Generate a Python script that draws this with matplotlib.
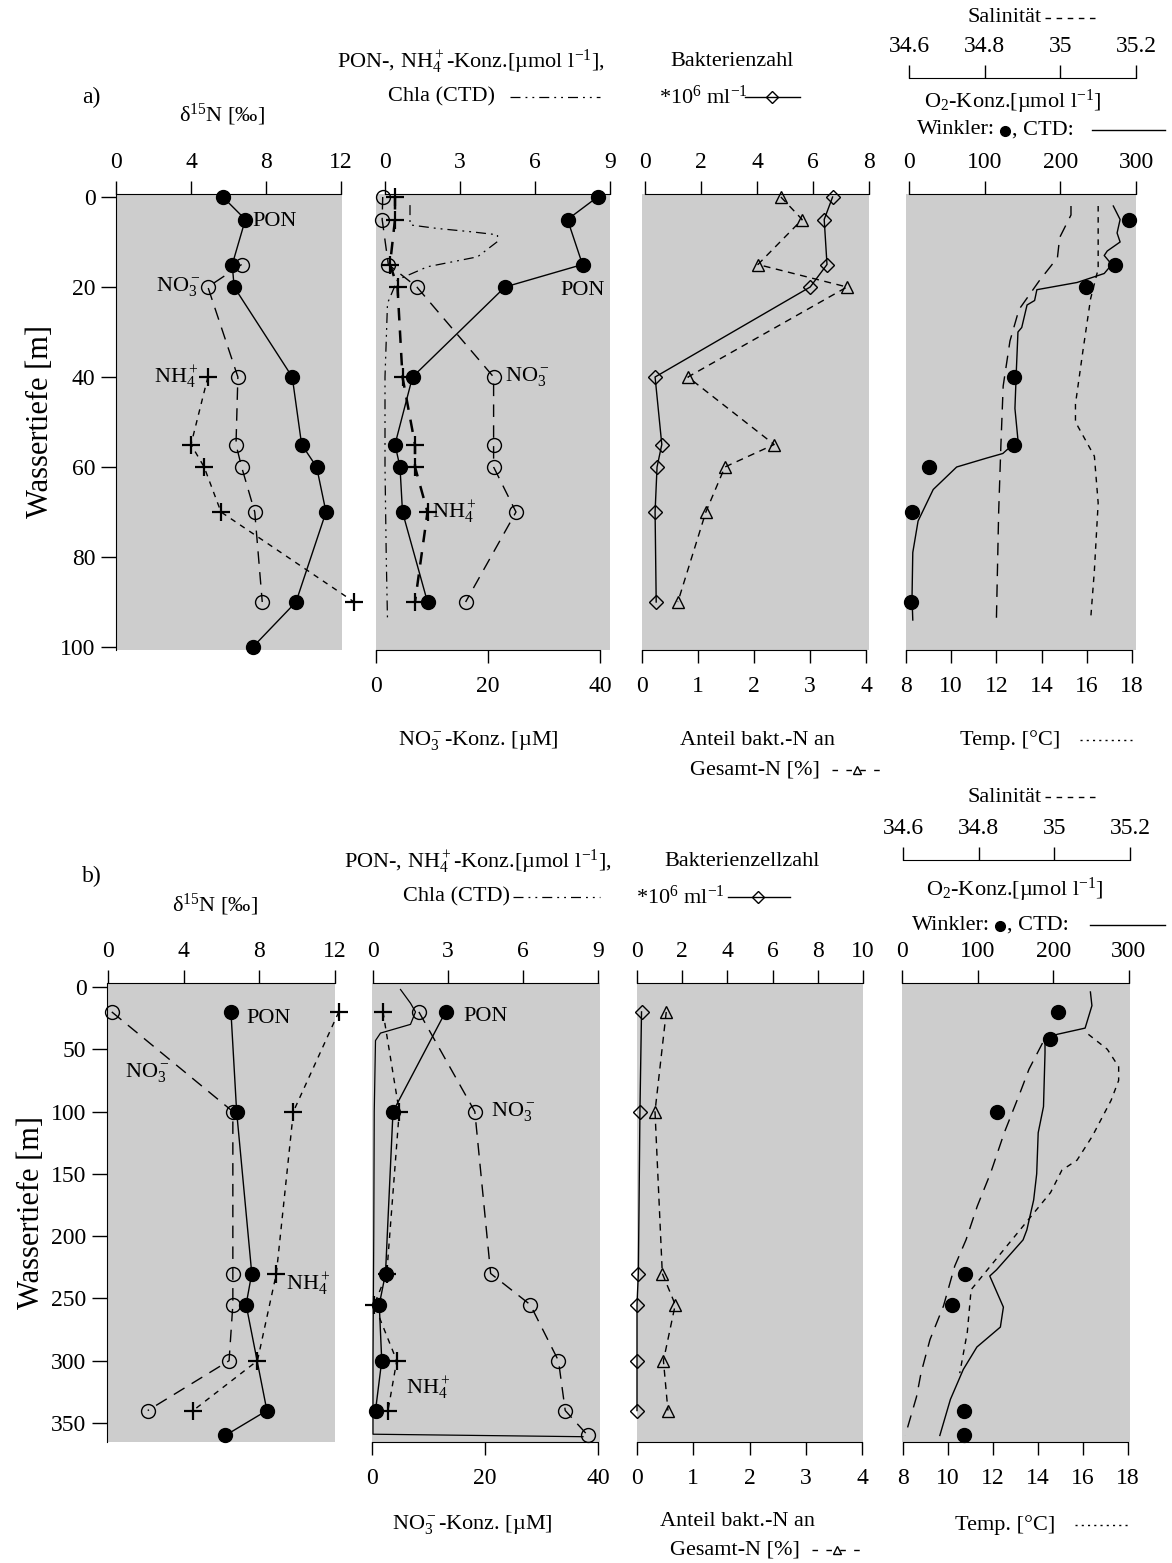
import numpy as np
import matplotlib
matplotlib.use('Agg')
import matplotlib.pyplot as plt
from matplotlib.lines import Line2D

plt.rcParams['font.family'] = ['Liberation Serif', 'DejaVu Serif']
plt.rcParams['mathtext.fontset'] = 'custom'
plt.rcParams['mathtext.rm'] = 'Liberation Serif'
plt.rcParams['mathtext.it'] = 'Liberation Serif:italic'
plt.rcParams['font.size'] = 16

# ---------------- data, station a) ----------------
# sampling depths [m]
depth_a = [0, 5, 15, 20, 40, 55, 60, 70, 90]
# delta15N [permil]
d15n_pon_depth_a = [0, 5, 15, 20, 40, 55, 60, 70, 90, 100]
d15n_pon_a = [5.7, 6.9, 6.2, 6.3, 9.4, 9.9, 10.7, 11.2, 9.6, 7.3]
d15n_no3_depth_a = [15, 20, 40, 55, 60, 70, 90]
d15n_no3_a = [6.7, 4.9, 6.5, 6.4, 6.7, 7.4, 7.8]
d15n_nh4_depth_a = [40, 55, 60, 70, 90]
d15n_nh4_a = [4.9, 4.0, 4.7, 5.6, 12.7]
# concentrations
pon_a = [8.5, 7.3, 7.9, 4.8, 1.1, 0.4, 0.6, 0.7, 1.7]
nh4_a = [0.4, 0.4, 0.2, 0.5, 0.7, 1.2, 1.2, 1.7, 1.2]
no3_a = [1.2, 1.1, 2.2, 7.3, 21, 21, 21, 25, 16]
chla_depth_a = [1.8, 6.2, 7, 7.7, 8.4, 9.9, 13.3, 15.5, 18.4, 23.6, 40, 60, 80, 94]
chla_a = [1.0, 1.0, 2.1, 3.4, 4.5, 4.5, 3.7, 1.7, 0.5, 0.1, 0.0, 0.0, 0.05, 0.1]
# bacteria
bact_a = [6.7, 6.4, 6.5, 5.9, 0.36, 0.6, 0.43, 0.36, 0.4]
bactn_a = [2.48, 2.86, 2.07, 3.66, 0.82, 2.36, 1.48, 1.14, 0.64]
# oxygen, temperature, salinity
winkler_depth_a = [5, 15, 20, 40, 55, 60, 70, 90]
winkler_a = [291, 272, 234, 139, 139, 26, 4, 3]
ctd_depth_a = [2, 5, 8, 10, 12, 13, 15, 17, 19, 20.6, 23, 24, 29, 30, 38, 47, 54, 57, 58, 60, 65, 72, 79, 89, 94]
ctd_o2_a = [270, 279, 275, 279, 262, 258, 268, 258, 222, 169, 166, 156, 149, 144, 142, 140, 144, 124, 103, 63, 32, 12, 5, 4, 5]
temp_depth_a = [2, 4, 9, 13.5, 18.6, 25, 32, 42, 55, 70, 94]
temp_a = [15.3, 15.3, 14.8, 14.7, 13.9, 13.0, 12.6, 12.3, 12.2, 12.1, 12.0]
sal_depth_a = [2, 16, 22.6, 34, 46, 50, 57.6, 68, 83, 94]
sal_a = [35.10, 35.10, 35.08, 35.06, 35.04, 35.04, 35.09, 35.10, 35.09, 35.08]

# ---------------- data, station b) ----------------
d15n_pon_depth_b = [20, 100, 230, 255, 340, 360]
d15n_pon_b = [6.5, 6.8, 7.6, 7.3, 8.4, 6.2]
d15n_no3_depth_b = [20, 100, 230, 255, 300, 340]
d15n_no3_b = [0.2, 6.6, 6.6, 6.6, 6.4, 2.1]
d15n_nh4_depth_b = [20, 100, 230, 300, 340]
d15n_nh4_b = [12.2, 9.8, 8.9, 7.9, 4.5]
pon_depth_b = [20, 100, 230, 255, 300, 340]
pon_b = [2.9, 0.8, 0.5, 0.25, 0.35, 0.1]
nh4_depth_b = [20, 100, 230, 255, 300, 340]
nh4_b = [0.4, 1.05, 0.55, 0.05, 0.95, 0.6]
no3_depth_b = [20, 100, 230, 255, 300, 340, 360]
no3_b = [8.3, 18.2, 21, 28, 33, 34.2, 38.2]
chla_depth_b = [2, 13, 20, 30, 37, 43, 100, 200, 300, 359, 361]
chla_b = [1.1, 1.5, 1.7, 1.5, 0.3, 0.1, 0.05, 0.03, 0.0, 0.0, 8.4]
bact_depth_b = [20, 100, 230, 255, 300, 340]
bact_b = [0.2, 0.13, 0.06, 0.0, 0.0, 0.0]
bactn_b = [0.52, 0.32, 0.45, 0.68, 0.47, 0.55]
winkler_depth_b = [20, 42, 100, 230, 255, 340, 360]
winkler_b = [206, 196, 126, 83, 66, 82, 82]
ctd_depth_b = [4, 15, 33, 38, 42, 53, 96, 117, 150, 171, 195, 203, 227, 232, 257, 273, 289, 307, 331, 360]
ctd_o2_b = [249, 251, 242, 205, 189, 189, 187, 180, 178, 174, 165, 160, 125, 116, 134, 130, 99, 81, 64, 50]
temp_depth_b = [45, 66, 85, 117, 149, 176, 203, 224, 256, 283, 310, 329, 360]
temp_b = [14.2, 13.6, 13.2, 12.5, 11.9, 11.3, 10.8, 10.3, 9.8, 9.2, 8.8, 8.6, 8.1]
sal_depth_b = [38, 50, 64, 75, 91, 120, 139, 147, 165, 243, 277, 310]
sal_b = [35.09, 35.14, 35.17, 35.17, 35.15, 35.10, 35.06, 35.02, 34.99, 34.78, 34.77, 34.75]

# ---------------- layout helpers ----------------
W, H = 1172, 1563
fig = plt.figure(figsize=(W / 100, H / 100), dpi=100)
SHADE = '#cdcdcd'
PT = 0.72  # points per pixel at 100 dpi


def rect(x0, x1, y0, y1):
    return [x0 / W, 1 - y1 / H, (x1 - x0) / W, (y1 - y0) / H]


def lim(b0, b1, p0, p1, v0, v1):
    # limits so that value v0 lands on pixel p0 and v1 on p1, box from b0 to b1
    s = (v1 - v0) / (p1 - p0)
    return v0 + (b0 - p0) * s, v0 + (b1 - p0) * s


def ftext(x, y, s, **kw):
    kw.setdefault('ha', 'center')
    kw.setdefault('va', 'center')
    fig.text(x / W, 1 - y / H, s, **kw)


def fline(xs, ys, **kw):
    fig.add_artist(Line2D([x / W for x in xs], [1 - y / H for y in ys],
                          transform=fig.transFigure, color='k', **kw))


def style_x(a, where, ticks, bounds, labels=None):
    if where == 'top':
        a.xaxis.tick_top()
    else:
        a.xaxis.tick_bottom()
    a.set_xticks(ticks)
    if labels is not None:
        a.set_xticklabels(labels)
    a.spines[where].set_visible(True)
    a.spines[where].set_bounds(*bounds)
    a.tick_params(axis='x', direction='out', length=13 * PT, width=1,
                  labelsize=17, pad=6 if where == 'top' else 9)


def panel(bx, by, ylim, top, bottom=None, sal=None, yticks=None):
    ax = fig.add_axes(rect(bx[0], bx[1], by[0], by[1]))
    ax.set_facecolor(SHADE)
    out = [ax]
    axb = axs = None
    if bottom is not None:
        axb = ax.twiny()
        out.append(axb)
    if sal is not None:
        axs = ax.twiny()
        out.append(axs)
    for a in out:
        for s in a.spines.values():
            s.set_visible(False)
    ax.set_ylim(ylim)
    ax.set_xlim(lim(bx[0], bx[1], *top[0]))
    style_x(ax, 'top', top[1], top[0][2:])
    if yticks is None:
        ax.set_yticks([])
    else:
        ax.set_yticks(yticks)
        ax.spines['left'].set_visible(True)
        ax.tick_params(axis='y', direction='out', length=15 * PT, width=1,
                       labelsize=17, pad=4)
    if axb is not None:
        axb.set_xlim(lim(bx[0], bx[1], *bottom[0]))
        style_x(axb, 'bottom', bottom[1], bottom[0][2:])
    if axs is not None:
        axs.set_xlim(lim(bx[0], bx[1], *sal[0]))
        style_x(axs, 'top', sal[1], sal[0][2:], sal[2])
        axs.spines['top'].set_position(('outward', sal[3] * PT))
    return out


filled = dict(color='k', lw=1, marker='o', ms=10, mfc='k', mec='k', clip_on=False)
opencirc = dict(color='k', lw=1, marker='o', ms=10, mfc='none', mec='k', mew=1, clip_on=False)
plus = dict(color='k', lw=1, marker='+', ms=13, mew=1.6, clip_on=False)
diam = dict(color='k', lw=1, marker='D', ms=7.5, mfc='none', mec='k', mew=1, clip_on=False)
tri = dict(color='k', lw=1, marker='^', ms=9, mfc='none', mec='k', mew=1, clip_on=False)
LDASH = (0, (9, 6))
SDASH = (0, (4, 4))
CHLA = (0, (8, 4, 1.5, 4, 1.5, 4))

sal_ticks = [34.6, 34.8, 35.0, 35.2]
sal_labels = ['34.6', '34.8', '35', '35.2']

# ================= row a =================
YA = (194, 650)
ylim_a = lim(YA[1], YA[0], 647, 197, 100, 0)

ax1, = panel((116, 342), YA, ylim_a, ((116, 341, 0, 12), [0, 4, 8, 12]),
             yticks=[0, 20, 40, 60, 80, 100])
ax1.set_ylabel('Wassertiefe [m]', fontsize=22, labelpad=4)
ax1.plot(d15n_no3_a, d15n_no3_depth_a, ls=LDASH, **opencirc)
ax1.plot(d15n_nh4_a, d15n_nh4_depth_a, ls=SDASH, **plus)
ax1.plot(d15n_pon_a, d15n_pon_depth_a, ls='-', **filled)
ax1.text(7.3, 5.5, 'PON', ha='left', va='center')
ax1.text(4.5, 20, 'NO$_3^-$', ha='right', va='center')
ax1.text(4.4, 40, 'NH$_4^+$', ha='right', va='center')

ax2, ax2b = panel((376, 610), YA, ylim_a, ((385, 610, 0, 9), [0, 3, 6, 9]),
                  bottom=((376, 600, 0, 40), [0, 20, 40]))
ax2.plot(chla_a, chla_depth_a, color='k', lw=0.9, ls=CHLA)
ax2.plot(nh4_a, depth_a, ls=(0, (5, 4)), **dict(plus, lw=1.8))
ax2b.plot(no3_a, depth_a, ls=LDASH, **opencirc)
ax2.plot(pon_a, depth_a, ls='-', **filled)
ax2.text(7.0, 20.7, 'PON', ha='left', va='center')
ax2b.text(23, 40, 'NO$_3^-$', ha='left', va='center')
ax2.text(1.9, 70, 'NH$_4^+$', ha='left', va='center')

ax3, ax3b = panel((642, 869), YA, ylim_a, ((645, 869, 0, 8), [0, 2, 4, 6, 8]),
                  bottom=((642, 866, 0, 4), [0, 1, 2, 3, 4]))
ax3b.plot(bactn_a, depth_a, ls=(0, (5, 4)), **tri)
ax3.plot(bact_a, depth_a, ls='-', **diam)

ax4, ax4b, ax4s = panel((906, 1136), YA, ylim_a, ((909, 1136, 0, 300), [0, 100, 200, 300]),
                        bottom=((906, 1132, 8, 18), [8, 10, 12, 14, 16, 18]),
                        sal=((909, 1136, 34.6, 35.2), sal_ticks, sal_labels, 116))
ax4b.plot(temp_a, temp_depth_a, color='k', lw=1, ls=LDASH)
ax4s.plot(sal_a, sal_depth_a, color='k', lw=1, ls=SDASH)
ax4.plot(ctd_o2_a, ctd_depth_a, color='k', lw=1)
ax4.plot(winkler_a, winkler_depth_a, ls='none', **filled)

# header / footer texts row a
ftext(82, 97, 'a)', ha='left', fontsize=17)
ftext(222, 115, 'δ$^{15}$N [‰]')
ftext(471, 62, 'PON-, NH$_4^+$-Konz.[µmol l$^{-1}$],')
ftext(442, 97, 'Chla (CTD)')
fline([510, 600], [97, 97], lw=0.9, ls=CHLA)
ftext(732, 62, 'Bakterienzahl')
ftext(703, 97, '*10$^6$ ml$^{-1}$')
fline([745, 772, 800], [97, 97, 97], lw=1, marker='D', ms=6, mfc='none', markevery=[1])
ftext(1005, 18, 'Salinität')
fline([1045, 1100], [18, 18], lw=1, ls=SDASH)
ftext(1013, 102, 'O$_2$-Konz.[µmol l$^{-1}$]')
ftext(995, 130, 'Winkler:', ha='right')
fline([1005], [131], marker='o', ms=7, ls='none')
ftext(1012, 130, ', CTD:', ha='left')
fline([1092, 1165], [130, 130], lw=1)
ftext(478, 740, 'NO$_3^-$-Konz. [µM]')
ftext(758, 740, 'Anteil bakt.-N an')
ftext(755, 770, 'Gesamt-N [%]')
fline([832, 857, 882], [770, 770, 770], lw=1, ls=(0, (4, 6)), marker='^', ms=6,
      mfc='none', markevery=[1])
ftext(1010, 740, 'Temp. [°C]')
fline([1080, 1132], [740, 740], lw=1, ls=(0, (1.5, 3)))

# ================= row b =================
YB = (983, 1442)
ylim_b = lim(YB[1], YB[0], 1423, 987, 350, 0)

bx1, = panel((107, 335), YB, ylim_b, ((108, 335, 0, 12), [0, 4, 8, 12]),
             yticks=[0, 50, 100, 150, 200, 250, 300, 350])
bx1.set_ylabel('Wassertiefe [m]', fontsize=22, labelpad=4)
bx1.plot(d15n_no3_b, d15n_no3_depth_b, ls=LDASH, **opencirc)
bx1.plot(d15n_nh4_b, d15n_nh4_depth_b, ls=SDASH, **plus)
bx1.plot(d15n_pon_b, d15n_pon_depth_b, ls='-', **filled)
bx1.text(7.3, 25, 'PON', ha='left', va='center')
bx1.text(0.9, 69, 'NO$_3^-$', ha='left', va='center')
bx1.text(9.4, 238, 'NH$_4^+$', ha='left', va='center')

bx2, bx2b = panel((372, 600), YB, ylim_b, ((373, 598, 0, 9), [0, 3, 6, 9]),
                  bottom=((372, 598, 0, 40), [0, 20, 40]))
bx2.plot(chla_b, chla_depth_b, color='k', lw=0.9)
bx2.plot(nh4_b, nh4_depth_b, ls=SDASH, **plus)
bx2b.plot(no3_b, no3_depth_b, ls=LDASH, **opencirc)
bx2.plot(pon_b, pon_depth_b, ls='-', **filled)
bx2.text(3.6, 24, 'PON', ha='left', va='center')
bx2.text(4.7, 100, 'NO$_3^-$', ha='left', va='center')
bx2.text(1.3, 322, 'NH$_4^+$', ha='left', va='center')

bx3, bx3b = panel((637, 863), YB, ylim_b, ((637, 863, 0, 10), [0, 2, 4, 6, 8, 10]),
                  bottom=((637, 862, 0, 4), [0, 1, 2, 3, 4]))
bx3b.plot(bactn_b, bact_depth_b, ls=(0, (5, 4)), **tri)
bx3.plot(bact_b, bact_depth_b, ls='-', **diam)

bx4, bx4b, bx4s = panel((902, 1130), YB, ylim_b, ((902, 1129, 0, 300), [0, 100, 200, 300]),
                        bottom=((903, 1128, 8, 18), [8, 10, 12, 14, 16, 18]),
                        sal=((903, 1130, 34.6, 35.2), sal_ticks, sal_labels, 123))
bx4b.plot(temp_b, temp_depth_b, color='k', lw=1, ls=LDASH)
bx4s.plot(sal_b, sal_depth_b, color='k', lw=1, ls=SDASH)
bx4.plot(ctd_o2_b, ctd_depth_b, color='k', lw=1)
bx4.plot(winkler_b, winkler_depth_b, ls='none', **filled)

ftext(82, 876, 'b)', ha='left', fontsize=17)
ftext(215, 905, 'δ$^{15}$N [‰]')
ftext(478, 862, 'PON-, NH$_4^+$-Konz.[µmol l$^{-1}$],')
ftext(457, 897, 'Chla (CTD)')
fline([513, 600], [897, 897], lw=0.9, ls=CHLA)
ftext(742, 862, 'Bakterienzellzahl')
ftext(680, 897, '*10$^6$ ml$^{-1}$')
fline([728, 758, 790], [897, 897, 897], lw=1, marker='D', ms=6, mfc='none', markevery=[1])
ftext(1005, 797, 'Salinität')
fline([1045, 1100], [797, 797], lw=1, ls=SDASH)
ftext(1015, 890, 'O$_2$-Konz.[µmol l$^{-1}$]')
ftext(990, 925, 'Winkler:', ha='right')
fline([1000], [926], marker='o', ms=7, ls='none')
ftext(1007, 925, ', CTD:', ha='left')
fline([1090, 1165], [925, 925], lw=1)
ftext(472, 1524, 'NO$_3^-$-Konz. [µM]')
ftext(737, 1522, 'Anteil bakt.-N an')
ftext(735, 1550, 'Gesamt-N [%]')
fline([812, 837, 862], [1550, 1550, 1550], lw=1, ls=(0, (4, 6)), marker='^', ms=6,
      mfc='none', markevery=[1])
ftext(1005, 1525, 'Temp. [°C]')
fline([1075, 1130], [1525, 1525], lw=1, ls=(0, (1.5, 3)))

fig.savefig('out.png', dpi=100, facecolor='white')
